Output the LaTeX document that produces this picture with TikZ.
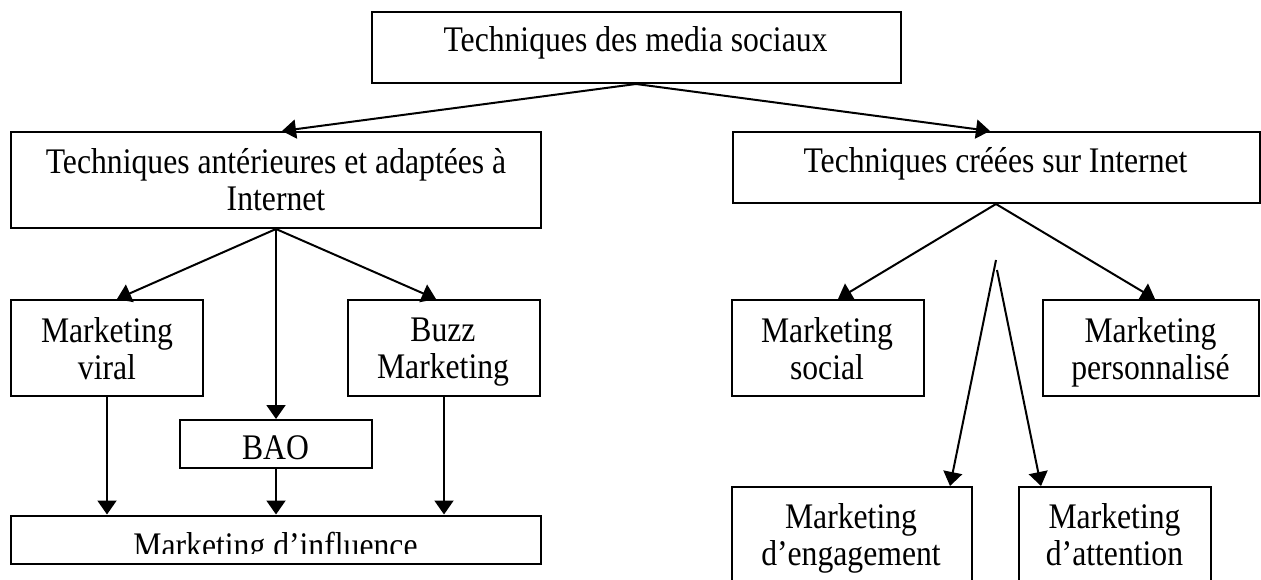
\documentclass[tikz,border=0pt]{standalone}
\usepackage{fontspec}
\setmainfont[FakeStretch=0.88]{Liberation Serif}
\usetikzlibrary{arrows.meta}
\begin{document}
\begin{tikzpicture}[x=1pt,y=-1pt]
\tikzset{
  box/.style={draw, line width=2pt, rectangle, inner sep=0pt},
  txt/.style={inner sep=0pt, font=\fontsize{36}{37}\selectfont, align=center},
  conn/.style={line width=2pt, -{Triangle[length=14pt,width=19pt]}}
}
\useasboundingbox (0,0) rectangle (1261,580);
\fill[white] (0,0) rectangle (1261,580);
\clip (0,0) rectangle (1261,580);

% boxes
\node[box, minimum width=529pt, minimum height=71pt] (T) at (636,47.5) {};
\node[box, minimum width=530pt, minimum height=96pt] (A) at (276,180) {};
\node[box, minimum width=527pt, minimum height=71pt] (B) at (996,167.5) {};
\node[box, minimum width=192pt, minimum height=96pt] (V) at (107,348) {};
\node[box, minimum width=192pt, minimum height=96pt] (Z) at (444,348) {};
\node[box, minimum width=192pt, minimum height=48pt] (BAO) at (276,444) {};
\node[box, minimum width=530pt, minimum height=48pt] (I) at (276,539.5) {};
\node[box, minimum width=192pt, minimum height=96pt] (S) at (828,348) {};
\node[box, minimum width=216pt, minimum height=96pt] (P) at (1151,348) {};
\node[box, minimum width=240pt, minimum height=130pt] (E) at (852,552) {};
\node[box, minimum width=192pt, minimum height=130pt] (N) at (1115,552) {};

% texts
\node[txt, anchor=base] (Tt) at (635.5,52) {Techniques des media sociaux};
\node[txt, anchor=north] (At) at (276,148.4) {Techniques antérieures et adaptées à\\Internet};
\node[txt, anchor=base] (Bt) at (995.5,173) {Techniques créées sur Internet};
\node[txt, anchor=north] (Vt) at (107,317.4) {Marketing\\viral};
\node[txt, anchor=north] (Zt) at (443,317.4) {Buzz\\Marketing};
\node[txt, anchor=base] (BAOt) at (275.5,459) {BAO};
\begin{scope}
\clip (11,516) rectangle (541,553);
\node[txt, anchor=base] (It) at (275.5,557) {Marketing d’influence};
\end{scope}
\node[txt, anchor=north] (St) at (827,317.4) {Marketing\\social};
\node[txt, anchor=north] (Pt) at (1150.5,317.4) {Marketing\\personnalisé};
\node[txt, anchor=north] (Et) at (851,503.4) {Marketing\\d’engagement};
\node[txt, anchor=north] (Nt) at (1114.5,503.4) {Marketing\\d’attention};

% connectors
\draw[conn] (T.south) -- ([xshift=6pt]A.north);
\draw[conn] (T.south) -- ([xshift=-6pt]B.north);
\draw[conn] (A.south) -- ([xshift=10pt]V.north);
\draw[conn] (A.south) -- (BAO.north);
\draw[conn] (A.south) -- ([xshift=-8pt]Z.north);
\draw[conn] (V.south) -- (V.south |- I.north);
\draw[conn] (BAO.south) -- (BAO.south |- I.north);
\draw[conn] (Z.south) -- (Z.south |- I.north);
\draw[conn] (B.south) -- ([xshift=10pt]S.north);
\draw[conn] (B.south) -- ([xshift=4pt]P.north);
\coordinate (apexL) at (996,260);
\coordinate (apexR) at (997,270);
\draw[conn] (apexL) -- ([xshift=-23pt]E.north east);
\draw[conn] (apexR) -- ([xshift=23pt]N.north west);
\end{tikzpicture}
\end{document}
